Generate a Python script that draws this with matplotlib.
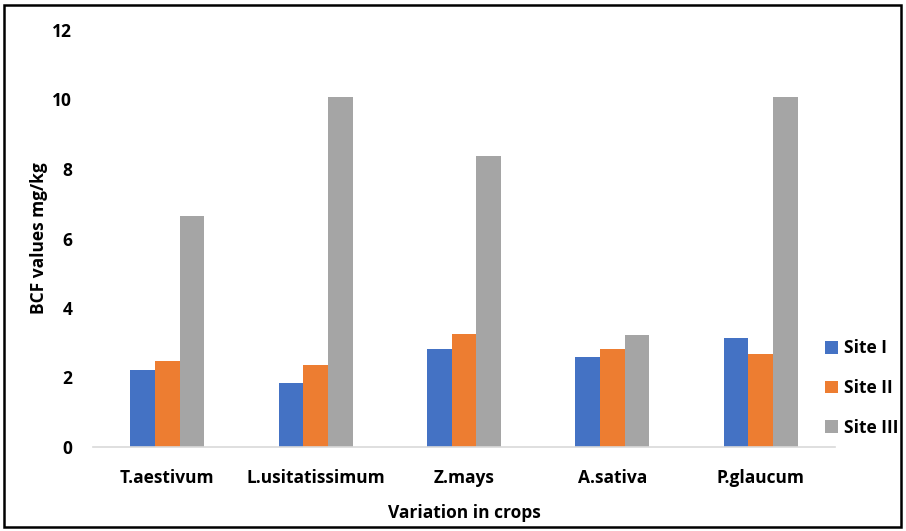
import numpy as np
import matplotlib.pyplot as plt
from matplotlib.patches import Rectangle

crops = ['T.aestivum', 'L.usitatissimum', 'Z.mays', 'A.sativa', 'P.glaucum']
site_1 = [2.22, 1.85, 2.82, 2.58, 3.13]
site_2 = [2.48, 2.37, 3.24, 2.82, 2.68]
site_3 = [6.65, 10.07, 8.37, 3.21, 10.07]
sites = ['Site I', 'Site II', 'Site III']
colors = ['#4472C4', '#ED7D31', '#A5A5A5']

plt.rcParams['font.family'] = ['Open Sans', 'DejaVu Sans']
FS = 12.5

fig = plt.figure(figsize=(9.06, 5.31), dpi=100)
ax = fig.add_axes([93/906, 1 - 447/531, (835-93)/906, (447-30)/531])

x = np.arange(len(crops))
w = 0.166
for i, (vals, lab, c) in enumerate(zip([site_1, site_2, site_3], sites, colors)):
    ax.bar(x + (i - 1) * w, vals, width=w, color=c, label=lab)

ax.set_xlim(-0.5, len(crops) - 0.5)
ax.set_ylim(0, 12)
ax.set_yticks(range(0, 13, 2))
ax.set_xticks(x)
ax.set_xticklabels(crops, fontsize=FS, fontweight='bold')
for t in ax.get_yticklabels():
    t.set_fontsize(FS)
    t.set_fontweight('bold')
ax.tick_params(axis='x', length=0, pad=16)
ax.tick_params(axis='y', length=0, pad=15)
for s in ['top', 'right', 'left']:
    ax.spines[s].set_visible(False)
ax.spines['bottom'].set_color('#D9D9D9')
ax.spines['bottom'].set_linewidth(1.2)

ax.set_ylabel('BCF values mg/kg', fontsize=FS, fontweight='bold', labelpad=3)
ax.set_xlabel('Variation in crops', fontsize=FS, fontweight='bold', labelpad=12)

leg = fig.legend(loc='center left', bbox_to_anchor=(818/906, 1 - 388/531),
                 frameon=False, fontsize=FS, handlelength=0.75, handleheight=0.75,
                 handletextpad=0.35, labelspacing=1.25, borderaxespad=0)
for t in leg.get_texts():
    t.set_fontweight('bold')

fig.patches.append(Rectangle((4/906, 4/531), 897/906, 522/531, transform=fig.transFigure,
                             fill=False, edgecolor='black', linewidth=1.8))

fig.savefig('out.png', dpi=100)
